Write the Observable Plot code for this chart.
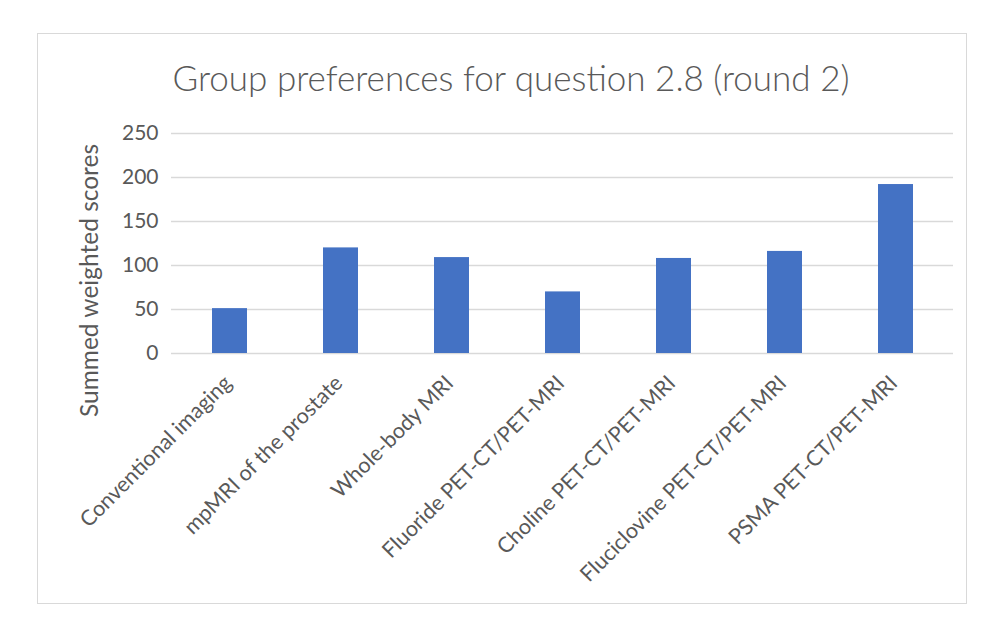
<!DOCTYPE html>
<html>
<head>
<meta charset="utf-8">
<script src="https://cdn.jsdelivr.net/npm/d3@7"></script>
<script src="https://cdn.jsdelivr.net/npm/@observablehq/plot@0.6"></script>
<style>
  html, body { margin: 0; padding: 0; background: #fff; }
  #wrap { position: relative; width: 1003px; height: 627px; overflow: hidden; font-family: Lato, "Open Sans", sans-serif; }
  #frame { position: absolute; left: 37px; top: 33px; width: 930px; height: 571px; box-sizing: border-box; border: 1px solid #d9d9d9; }
  #title { position: absolute; left: 0; top: 56px; width: 1022px; text-align: center; font-size: 35px; font-weight: 300; color: #595959; white-space: nowrap; }
  #plot { position: absolute; left: 0; top: 0; }
</style>
</head>
<body>
<div id="wrap">
  <div id="frame"></div>
  <div id="plot"></div>
  <div id="title">Group preferences for question 2.8 (round 2)</div>
</div>
<script>
const categories = [
  "Conventional imaging",
  "mpMRI of the prostate",
  "Whole-body MRI",
  "Fluoride PET-CT/PET-MRI",
  "Choline PET-CT/PET-MRI",
  "Fluciclovine PET-CT/PET-MRI",
  "PSMA PET-CT/PET-MRI"
];
const values = [51, 120, 109, 70, 108, 116, 192];
const yTicks = [0, 50, 100, 150, 200, 250];
const yLabel = "Summed weighted scores";

const data = categories.map((c, i) => ({category: c, value: values[i]}));

const chart = Plot.plot({
  width: 1003,
  height: 627,
  marginLeft: 171,
  marginRight: 50,
  marginTop: 133,
  marginBottom: 274,
  style: {fontFamily: "Lato, 'Open Sans', sans-serif", fontSize: "21px", color: "#595959", background: "transparent"},
  x: {domain: categories, paddingInner: 0.687, paddingOuter: 0.3435, label: null},
  y: {domain: [0, 250], ticks: yTicks, label: null},
  marks: [
    Plot.gridY(yTicks, {stroke: "#d9d9d9", strokeOpacity: 1, strokeWidth: 1.5}),
    Plot.barY(data, {x: "category", y: "value", fill: "#4472c4"}),
    Plot.axisY({ticks: yTicks, tickSize: 0, tickPadding: 13, label: null, fill: "#595959", fontSize: 21}),
    Plot.axisX({tickSize: 0, tickRotate: -45, tickPadding: 20, dx: -2, dy: 6, label: null, fill: "#595959", fontSize: 21.5}),
    Plot.text([yLabel], {frameAnchor: "left", textAnchor: "middle", rotate: -90, dx: -81, dy: 37, fill: "#595959", fontSize: 24.5})
  ]
});
document.getElementById("plot").appendChild(chart);
</script>
</body>
</html>
